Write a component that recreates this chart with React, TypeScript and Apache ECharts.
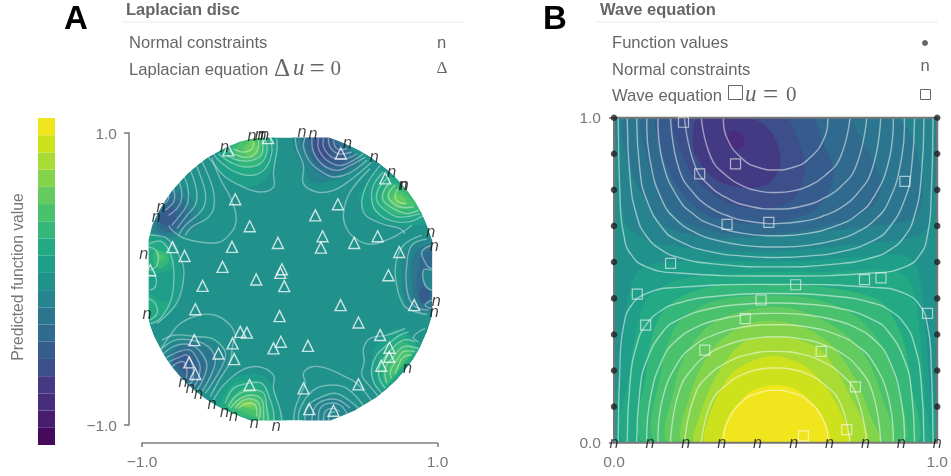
import React, { useEffect, useRef } from "react";
import * as echarts from "echarts";

type Pt = [number, number];

const viridis = ["#450a5c","#481d6f","#472d7b","#443a83","#3c4f8a","#365c8d","#306a8e","#2b768e","#25848e","#21918c","#1f9e89","#23a983","#35b779","#4ac16d","#63cb5f","#84d44b","#a8db34","#cde11d","#f1e51d"];
const colorbarValues = viridis.map(() => 1);
const colorbarLevels = viridis.map((_, i) => String(i));
const baseLevel = 9;

const discEdge: Pt[] = [[-.955,-.27],[-.955,.27],[-.93,.37],[-.89,.455],[-.85,.525],[-.8,.6],[-.75,.66],[-.69,.725],[-.625,.78],[-.56,.83],[-.49,.87],[-.42,.905],[-.34,.94],[-.26,.96],[-.18,.97],[.264,.97],[.33,.945],[.4,.916],[.47,.882],[.54,.84],[.61,.79],[.68,.733],[.74,.67],[.8,.6],[.85,.527],[.89,.455],[.93,.365],[.964,.265],[.964,-.25],[.93,-.36],[.885,-.46],[.835,-.55],[.78,-.625],[.72,-.695],[.655,-.755],[.59,-.81],[.515,-.857],[.44,-.9],[.36,-.935],[.275,-.97],[-.266,-.97],[-.34,-.94],[-.42,-.905],[-.495,-.868],[-.565,-.825],[-.63,-.775],[-.69,-.725],[-.745,-.665],[-.795,-.605],[-.84,-.54],[-.88,-.47],[-.92,-.39],[-.945,-.32]];
const maskOuter: Pt[] = [[-1.03,-1.03],[1.03,-1.03],[1.03,1.03],[-1.03,1.03]];

const discBands: [number, Pt[]][] = [
  [10,[[-.493,.756],[-.392,.664],[-.302,.63],[-.2,.653],[-.132,.733],[-.087,.847],[-.11,.984],[-.369,.984],[-.493,.847]]],
  [11,[[-.437,.801],[-.335,.721],[-.234,.71],[-.155,.801],[-.144,.984],[-.347,.984],[-.448,.858]]],
  [12,[[-.38,.824],[-.302,.767],[-.211,.79],[-.166,.87],[-.189,.984],[-.324,.984],[-.403,.881]]],
  [13,[[-.347,.835],[-.279,.813],[-.2,.858],[-.211,.961],[-.302,.961],[-.369,.881]]],
  [14,[[-.302,.858],[-.256,.835],[-.216,.881],[-.234,.938],[-.274,.938],[-.313,.892]]],
  [8,[[-.82,.619],[-.73,.63],[-.674,.562],[-.617,.448],[-.606,.379],[-.685,.322],[-.775,.288],[-.888,.288],[-.944,.311],[-.91,.459]]],
  [7,[[-.843,.585],[-.752,.585],[-.685,.493],[-.674,.391],[-.775,.322],[-.888,.322],[-.91,.414]]],
  [6,[[-.82,.55],[-.752,.539],[-.707,.459],[-.73,.368],[-.809,.322],[-.877,.345],[-.877,.436]]],
  [5,[[-.854,.482],[-.786,.493],[-.764,.414],[-.82,.357],[-.877,.391]]],
  [8,[[.026,.984],[.037,.87],[.093,.767],[.15,.664],[.251,.664],[.375,.699],[.488,.79],[.296,.984]]],
  [7,[[.082,.984],[.093,.87],[.161,.756],[.251,.699],[.375,.733],[.465,.813],[.285,.984]]],
  [6,[[.116,.984],[.138,.847],[.217,.756],[.319,.733],[.42,.79],[.285,.984]]],
  [5,[[.138,.984],[.172,.847],[.24,.778],[.33,.778],[.375,.824],[.251,.984]]],
  [4,[[.172,.949],[.183,.858],[.24,.813],[.274,.87],[.229,.949]]],
  [10,[[.601,.744],[.499,.619],[.465,.562],[.522,.448],[.657,.379],[.781,.357],[.95,.402],[.758,.664]]],
  [11,[[.646,.699],[.567,.596],[.555,.505],[.646,.425],[.77,.402],[.928,.448],[.781,.642]]],
  [12,[[.668,.653],[.612,.562],[.646,.482],[.747,.436],[.894,.471],[.792,.619]]],
  [13,[[.702,.619],[.657,.562],[.702,.493],[.792,.482],[.849,.505],[.781,.585]]],
  [14,[[.725,.585],[.691,.539],[.747,.505],[.792,.528],[.758,.573]]],
  [8,[[.894,.265],[.781,.186],[.758,.072],[.781,-.156],[.871,-.22],[.995,-.213],[.995,.265]]],
  [7,[[.916,.231],[.837,.163],[.826,-.02],[.849,-.179],[.995,-.202],[.995,.231]]],
  [6,[[.961,.186],[.894,.163],[.871,.072],[.86,-.088],[.905,-.168],[.961,-.122],[.928,.026],[.973,.072]]],
  [5,[[.905,-.042],[.871,-.111],[.905,-.168],[.95,-.111]]],
  [8,[[.995,.072],[.905,.06],[.916,-.054],[.995,-.077]]],
  [10,[[-.977,.311],[-.853,.277],[-.763,.163],[-.729,.026],[-.752,-.134],[-.819,-.248],[-.977,-.316]]],
  [11,[[-.977,.254],[-.819,.22],[-.785,.117],[-.808,.06],[-.977,.049]]],
  [11,[[-.977,-.088],[-.876,-.145],[-.819,-.168],[-.853,-.236],[-.977,-.282]]],
  [12,[[-.91,.197],[-.83,.174],[-.819,.117],[-.876,.072],[-.921,.106]]],
  [13,[[-.898,.174],[-.853,.163],[-.853,.129],[-.887,.129]]],
  [8,[[-.854,-.487],[-.73,-.407],[-.55,-.419],[-.426,-.51],[-.437,-.601],[-.538,-.749],[-.696,-.749],[-.865,-.567]]],
  [7,[[-.809,-.521],[-.707,-.441],[-.583,-.464],[-.493,-.555],[-.538,-.658],[-.617,-.738],[-.73,-.715]]],
  [6,[[-.786,-.544],[-.707,-.476],[-.64,-.498],[-.572,-.59],[-.628,-.692],[-.719,-.681]]],
  [5,[[-.786,-.567],[-.73,-.51],[-.674,-.521],[-.64,-.601],[-.685,-.658],[-.741,-.612]]],
  [10,[[-.516,-.852],[-.426,-.704],[-.324,-.658],[-.189,-.658],[-.11,-.749],[-.076,-.886],[-.031,-.989],[-.414,-1.0]]],
  [11,[[-.471,-.863],[-.38,-.715],[-.256,-.692],[-.155,-.749],[-.121,-.886],[-.099,-.989],[-.369,-.977]]],
  [12,[[-.426,-.863],[-.335,-.761],[-.234,-.749],[-.166,-.829],[-.144,-.977],[-.347,-.932]]],
  [13,[[-.392,-.863],[-.313,-.806],[-.223,-.806],[-.189,-.886],[-.189,-.954],[-.324,-.909]]],
  [14,[[-.358,-.863],[-.302,-.829],[-.234,-.84],[-.223,-.897],[-.29,-.886]]],
  [15,[[-.324,-.859],[-.279,-.845],[-.245,-.863],[-.279,-.875]]],
  [8,[[.093,-.989],[.138,-.863],[.251,-.806],[.364,-.829],[.454,-.909],[.296,-.989]]],
  [10,[[.725,-.339],[.601,-.43],[.555,-.544],[.544,-.658],[.612,-.772],[.815,-.578],[.894,-.453],[.815,-.384]]],
  [11,[[.747,-.373],[.646,-.464],[.589,-.578],[.601,-.704],[.646,-.749],[.837,-.544],[.871,-.464]]],
  [12,[[.758,-.43],[.68,-.498],[.623,-.601],[.657,-.715],[.815,-.533],[.849,-.476]]],
  [13,[[.77,-.476],[.713,-.533],[.668,-.624],[.702,-.658],[.804,-.533],[.826,-.51]]],
];

const discLines: Pt[][] = [
  [[-.527,.831],[-.471,.687],[-.403,.562],[-.365,.448],[-.368,.368],[-.402,.311],[-.47,.254],[-.582,.25],[-.718,.281],[-.797,.334],[-.819,.368]],
  [[-.606,.824],[-.561,.733],[-.516,.596],[-.516,.482],[-.561,.414],[-.662,.357],[-.707,.3]],
  [[-.644,.806],[-.606,.71],[-.572,.596],[-.577,.505],[-.622,.441],[-.707,.368],[-.752,.3]],
  [[-.685,.767],[-.651,.687],[-.628,.585],[-.64,.505],[-.696,.436],[-.764,.345]],
  [[-.725,.721],[-.696,.653],[-.685,.573],[-.696,.505],[-.752,.425],[-.798,.368]],
  [[-.764,.687],[-.734,.619],[-.734,.539],[-.764,.482],[-.82,.436]],
  [[-.798,.642],[-.78,.585],[-.786,.528],[-.843,.471]],
  [[-.831,.596],[-.82,.55],[-.865,.505]],
  [[-.087,.961],[-.087,.881],[-.11,.733],[-.11,.63],[-.2,.596],[-.313,.63],[-.437,.699],[-.516,.79],[-.55,.835]],
  [[-.132,.961],[-.121,.87],[-.166,.756],[-.256,.71],[-.369,.733],[-.482,.813],[-.516,.858]],
  [[-.166,.961],[-.155,.87],[-.2,.79],[-.302,.767],[-.403,.801],[-.482,.858]],
  [[-.189,.961],[-.189,.858],[-.256,.813],[-.347,.813],[-.426,.847]],
  [[-.211,.949],[-.223,.87],[-.279,.835],[-.358,.847],[-.414,.881]],
  [[-.245,.949],[-.256,.892],[-.313,.87],[-.38,.892]],
  [[.037,.965],[.048,.892],[.093,.778],[.093,.653],[.183,.596],[.296,.607],[.409,.676],[.555,.801]],
  [[.104,.965],[.093,.904],[.138,.801],[.217,.733],[.296,.699],[.398,.721],[.522,.813]],
  [[.15,.965],[.161,.87],[.229,.778],[.319,.744],[.409,.778],[.51,.835]],
  [[.195,.965],[.195,.892],[.251,.813],[.341,.778],[.431,.813],[.499,.858]],
  [[.229,.965],[.229,.904],[.285,.835],[.375,.824],[.454,.858]],
  [[.262,.965],[.274,.904],[.33,.858],[.42,.87]],
  [[.296,.949],[.319,.892],[.386,.892]],
  [[.544,.756],[.409,.596],[.364,.459],[.375,.368],[.431,.288],[.544,.238],[.68,.277],[.781,.334],[.826,.368]],
  [[.612,.778],[.51,.619],[.499,.459],[.623,.379],[.747,.345],[.781,.311]],
  [[.634,.733],[.567,.642],[.555,.539],[.589,.459],[.68,.402],[.804,.391],[.905,.436]],
  [[.657,.687],[.601,.619],[.589,.539],[.646,.471],[.736,.425],[.882,.448]],
  [[.68,.664],[.634,.596],[.634,.539],[.702,.482],[.792,.448],[.871,.471]],
  [[.713,.642],[.668,.585],[.68,.539],[.747,.493],[.837,.493]],
  [[.736,.619],[.713,.573],[.736,.528],[.792,.516]],
  [[.894,.3],[.77,.231],[.72,.117],[.72,-.02],[.77,-.179],[.837,-.22],[.928,-.243]],
  [[.928,.272],[.826,.231],[.792,.094],[.792,-.065],[.837,-.179],[.939,-.213]],
  [[.961,.231],[.894,.186],[.928,.094],[.961,.072]],
  [[.961,.06],[.905,.06],[.916,-.042],[.961,-.077]],
  [[.961,-.145],[.916,-.179],[.961,-.202]],
  [[-.943,.3],[-.83,.277],[-.752,.163],[-.718,.072],[-.729,-.065],[-.774,-.179],[-.898,-.305]],
  [[-.948,.243],[-.864,.254],[-.797,.14],[-.785,-.02],[-.808,-.156],[-.876,-.27],[-.943,-.305]],
  [[-.955,.22],[-.898,.186],[-.898,.094],[-.948,.06]],
  [[-.955,.026],[-.91,.015],[-.91,-.054],[-.948,-.077]],
  [[-.955,-.134],[-.91,-.168],[-.898,-.236],[-.948,-.282]],
  [[-.877,-.487],[-.809,-.384],[-.741,-.305],[-.617,-.248],[-.504,-.248],[-.414,-.305],[-.369,-.384],[-.387,-.453],[-.403,-.567],[-.471,-.681],[-.538,-.806]],
  [[-.865,-.419],[-.775,-.384],[-.617,-.396],[-.527,-.407],[-.448,-.476],[-.437,-.544],[-.504,-.681],[-.572,-.783]],
  [[-.865,-.476],[-.775,-.419],[-.662,-.419],[-.55,-.464],[-.504,-.555],[-.538,-.669],[-.595,-.772]],
  [[-.854,-.51],[-.764,-.453],[-.662,-.453],[-.595,-.51],[-.561,-.59],[-.583,-.681],[-.628,-.761]],
  [[-.843,-.544],[-.752,-.498],[-.674,-.487],[-.628,-.544],[-.606,-.612],[-.628,-.704],[-.662,-.749]],
  [[-.82,-.567],[-.741,-.533],[-.696,-.521],[-.662,-.578],[-.651,-.647],[-.662,-.704],[-.696,-.726]],
  [[-.798,-.601],[-.741,-.567],[-.707,-.578],[-.696,-.647],[-.707,-.692],[-.73,-.704]],
  [[-.516,-.829],[-.448,-.726],[-.324,-.624],[-.211,-.601],[-.11,-.658],[-.11,-.749],[-.065,-.897],[-.053,-.977]],
  [[-.437,-.852],[-.38,-.749],[-.279,-.715],[-.189,-.715],[-.144,-.795],[-.11,-.909],[-.11,-.977]],
  [[-.414,-.875],[-.358,-.795],[-.256,-.761],[-.177,-.783],[-.155,-.886],[-.144,-.966]],
  [[-.403,-.886],[-.335,-.818],[-.256,-.795],[-.189,-.829],[-.177,-.92],[-.177,-.977]],
  [[-.369,-.886],[-.313,-.829],[-.234,-.829],[-.2,-.886],[-.211,-.966]],
  [[-.347,-.886],[-.29,-.852],[-.234,-.863],[-.223,-.943]],
  [[.026,-.973],[.037,-.886],[.071,-.795],[.104,-.715],[.093,-.647],[.15,-.601],[.251,-.612],[.375,-.669],[.454,-.715],[.533,-.806],[.567,-.863]],
  [[.059,-.973],[.071,-.886],[.161,-.761],[.285,-.726],[.386,-.749],[.488,-.852],[.533,-.932]],
  [[.104,-.973],[.116,-.875],[.195,-.818],[.307,-.783],[.398,-.829],[.477,-.897]],
  [[.15,-.973],[.172,-.875],[.24,-.829],[.33,-.829],[.409,-.886]],
  [[.195,-.973],[.206,-.886],[.262,-.852],[.341,-.863],[.386,-.92]],
  [[.229,-.973],[.24,-.909],[.285,-.886],[.341,-.909]],
  [[.262,-.973],[.274,-.92],[.307,-.909]],
  [[.781,-.339],[.657,-.384],[.544,-.407],[.499,-.476],[.504,-.567],[.488,-.658],[.555,-.749],[.601,-.806]],
  [[.804,-.362],[.747,-.384],[.657,-.453],[.589,-.521],[.555,-.612],[.567,-.704],[.623,-.783]],
  [[.849,-.43],[.77,-.419],[.691,-.476],[.623,-.567],[.601,-.658],[.646,-.749]],
  [[.871,-.476],[.77,-.464],[.702,-.533],[.646,-.612],[.657,-.715]],
  [[.849,-.498],[.77,-.498],[.725,-.555],[.68,-.635],[.691,-.681]],
  [[.826,-.521],[.77,-.533],[.736,-.59],[.713,-.647]],
  [[.916,-.339],[.837,-.396],[.871,-.43]],
];

const laplacianPoints: Pt[] = [[-.416,.881],[-.369,.546],[-.271,.361],[-.147,.965],[.346,.86],[.646,.689],[.326,.512],[.173,.436],[.222,.293],[.595,.293],[-.793,.218],[-.712,.158],[-.08,.247],[-.391,.22],[-.944,.06],[-.455,.083],[-.59,-.047],[-.227,-.003],[-.639,-.207],[-.053,.067],[-.064,.042],[-.037,-.049],[-.069,-.254],[.211,.215],[.436,.247],[.741,.185],[.668,.026],[.344,-.179],[.842,-.179],[.465,-.298],[-.646,-.419],[-.387,-.441],[-.335,-.362],[-.29,-.367],[-.482,-.51],[-.376,-.549],[-.11,-.475],[-.06,-.43],[-.68,-.571],[-.639,-.651],[-.272,-.726],[.123,-.458],[.612,-.384],[.675,-.471],[.673,-.533],[.619,-.594],[.465,-.722],[.093,-.749],[.132,-.891],[.296,-.902]];

const discNormals: Pt[] = [[-.441,.904],[-.256,.977],[-.206,.988],[-.188,.988],[-.17,.988],[-.871,.493],[-.903,.425],[.083,1.006],[.157,.995],[.391,.931],[.572,.835],[.691,.733],[.766,.646],[.775,.642],[.954,.32],[-.989,.168],[-.966,-.243],[.978,.226],[.991,-.152],[.978,-.229],[-.723,-.704],[-.673,-.745],[-.617,-.79],[-.526,-.858],[-.441,-.909],[-.38,-.936],[-.24,-.984],[-.091,-1.007],[.797,-.612]];

const waveDomain: Pt[] = [[0,0],[1,0],[1,1],[0,1]];

const waveBands: [number, Pt[]][] = [
  [10,[[.01,0],[.021,.226],[.034,.379],[.049,.472],[.08,.533],[.172,.556],[.357,.559],[.562,.559],[.767,.572],[.87,.579],[.921,.564],[.944,.518],[.962,.379],[.977,.174],[.988,0]]],
  [11,[[.039,0],[.049,.226],[.07,.349],[.101,.441],[.172,.492],[.275,.515],[.501,.525],[.665,.525],[.829,.533],[.9,.513],[.931,.451],[.947,.328],[.962,.123],[.967,0]]],
  [12,[[.095,0],[.101,.226],[.131,.369],[.193,.441],[.316,.482],[.562,.487],[.726,.467],[.829,.431],[.89,.328],[.921,.174],[.931,0]]],
  [13,[[.136,0],[.147,.226],[.193,.359],[.295,.431],[.459,.453],[.624,.441],[.747,.39],[.829,.297],[.88,.164],[.89,0]]],
  [14,[[.172,0],[.188,.174],[.224,.277],[.306,.369],[.449,.415],[.562,.41],[.695,.349],[.777,.267],[.829,.144],[.854,0]]],
  [15,[[.218,0],[.234,.144],[.295,.277],[.377,.349],[.459,.374],[.562,.364],[.665,.308],[.747,.195],[.793,.082],[.818,0]]],
  [16,[[.254,0],[.265,.082],[.316,.205],[.398,.308],[.48,.323],[.562,.318],[.644,.282],[.726,.154],[.777,0]]],
  [17,[[.285,0],[.295,.082],[.357,.205],[.439,.256],[.501,.267],[.583,.241],[.654,.174],[.706,.082],[.726,0]]],
  [18,[[.342,0],[.357,.082],[.418,.154],[.49,.177],[.562,.164],[.624,.113],[.659,.051],[.665,0]]],
  [8,[[.01,1],[.01,.901],[.024,.726],[.049,.654],[.162,.608],[.459,.588],[.767,.613],[.952,.644],[.988,.747],[.991,1]]],
  [7,[[.039,1],[.049,.849],[.121,.706],[.183,.654],[.357,.629],[.87,.675],[.942,.706],[.95,.849],[.87,1]]],
  [6,[[.095,1],[.095,.901],[.152,.747],[.224,.675],[.357,.644],[.521,.644],[.716,.685],[.808,.736],[.827,.808],[.767,.931],[.716,1]]],
  [5,[[.136,1],[.147,.901],[.193,.788],[.275,.706],[.398,.675],[.521,.68],[.634,.726],[.68,.829],[.644,.931],[.608,1]]],
  [4,[[.188,1],[.198,.921],[.254,.808],[.357,.736],[.48,.721],[.562,.757],[.591,.849],[.562,.952],[.531,1]]],
  [3,[[.259,1],[.244,.931],[.254,.88],[.316,.808],[.408,.783],[.48,.798],[.516,.859],[.501,.931],[.459,.983],[.408,1]]],
  [2,[[.347,.941],[.367,.962],[.393,.951],[.405,.926],[.383,.9],[.357,.913]]],
];

const waveLines: Pt[][] = [
  [[.339,0],[.35,.064],[.4,.129],[.45,.154],[.5,.161],[.55,.154],[.6,.129],[.65,.064],[.661,0]],
  [[.27,0],[.3,.122],[.35,.18],[.4,.211],[.45,.226],[.5,.23],[.55,.226],[.6,.211],[.65,.18],[.7,.122],[.73,0]],
  [[.218,0],[.25,.146],[.3,.214],[.35,.247],[.4,.268],[.5,.281],[.6,.268],[.65,.247],[.7,.214],[.75,.146],[.782,0]],
  [[.175,0],[.2,.154],[.25,.237],[.3,.278],[.35,.301],[.4,.316],[.5,.326],[.6,.316],[.65,.301],[.7,.278],[.75,.237],[.8,.154],[.825,0]],
  [[.136,0],[.15,.134],[.2,.25],[.25,.3],[.3,.328],[.4,.356],[.5,.363],[.6,.356],[.7,.328],[.75,.3],[.8,.25],[.85,.134],[.864,0]],
  [[.102,0],[.11,.122],[.15,.257],[.2,.321],[.25,.353],[.3,.373],[.4,.393],[.5,.398],[.6,.393],[.7,.373],[.75,.353],[.8,.321],[.85,.257],[.89,.122],[.898,0]],
  [[.07,0],[.08,.16],[.1,.25],[.15,.34],[.2,.379],[.3,.413],[.4,.426],[.5,.43],[.6,.426],[.7,.413],[.8,.379],[.85,.34],[.9,.25],[.92,.16],[.93,0]],
  [[.041,0],[.05,.19],[.07,.3],[.1,.364],[.15,.409],[.2,.43],[.3,.449],[.5,.459],[.7,.449],[.8,.43],[.85,.409],[.9,.364],[.93,.3],[.95,.19],[.959,0]],
  [[.013,0],[.02,.28],[.03,.36],[.05,.417],[.1,.459],[.2,.478],[.5,.487],[.8,.478],[.9,.459],[.95,.417],[.97,.36],[.98,.28],[.987,0]],
  [[.339,1],[.35,.936],[.4,.871],[.45,.846],[.5,.839],[.55,.846],[.6,.871],[.65,.936],[.661,1]],
  [[.27,1],[.3,.878],[.35,.82],[.4,.789],[.45,.774],[.5,.77],[.55,.774],[.6,.789],[.65,.82],[.7,.878],[.73,1]],
  [[.218,1],[.25,.854],[.3,.786],[.35,.753],[.4,.732],[.5,.719],[.6,.732],[.65,.753],[.7,.786],[.75,.854],[.782,1]],
  [[.175,1],[.2,.846],[.25,.763],[.3,.722],[.35,.699],[.4,.684],[.5,.674],[.6,.684],[.65,.699],[.7,.722],[.75,.763],[.8,.846],[.825,1]],
  [[.136,1],[.15,.866],[.2,.75],[.25,.7],[.3,.672],[.4,.644],[.5,.637],[.6,.644],[.7,.672],[.75,.7],[.8,.75],[.85,.866],[.864,1]],
  [[.102,1],[.11,.878],[.15,.743],[.2,.679],[.25,.647],[.3,.627],[.4,.607],[.5,.602],[.6,.607],[.7,.627],[.75,.647],[.8,.679],[.85,.743],[.89,.878],[.898,1]],
  [[.07,1],[.08,.84],[.1,.75],[.15,.66],[.2,.621],[.3,.587],[.4,.574],[.5,.57],[.6,.574],[.7,.587],[.8,.621],[.85,.66],[.9,.75],[.92,.84],[.93,1]],
  [[.041,1],[.05,.81],[.07,.7],[.1,.636],[.15,.591],[.2,.57],[.3,.551],[.5,.541],[.7,.551],[.8,.57],[.85,.591],[.9,.636],[.93,.7],[.95,.81],[.959,1]],
  [[.013,1],[.02,.72],[.03,.64],[.05,.583],[.1,.541],[.2,.522],[.5,.513],[.8,.522],[.9,.541],[.95,.583],[.97,.64],[.98,.72],[.987,1]],
];

const waveEquationPoints: Pt[] = [[.215,.986],[.376,.858],[.265,.827],[.9,.804],[.35,.672],[.479,.678],[.175,.552],[.072,.457],[.098,.362],[.562,.486],[.775,.502],[.826,.507],[.455,.439],[.406,.382],[.97,.398],[.281,.285],[.641,.281],[.747,.172],[.72,.04],[.586,.021]];
const waveFunctionValues: Pt[] = [[0,.111],[0,.222],[0,.333],[0,.444],[0,.556],[0,.667],[0,.778],[0,.889],[0,1],[1,.111],[1,.222],[1,.333],[1,.444],[1,.556],[1,.667],[1,.778],[1,.889],[1,1]];
const waveNormals: Pt[] = [[0,0],[.111,0],[.222,0],[.333,0],[.444,0],[.556,0],[.667,0],[.778,0],[.889,0],[1,0]];

const GRAY = "#666";
const SANS = '"Liberation Sans", Arial, sans-serif';
const SERIF = '"Liberation Serif", serif';
const LEGEND = `16.6px ${SANS}`;
const TITLE = `bold 16.5px ${SANS}`;

function fillSeries(axis: number, polys: [number, Pt[]][], smooth: number, clip: boolean) {
  return {
    type: "custom", coordinateSystem: "cartesian2d", xAxisIndex: axis, yAxisIndex: axis, clip, silent: true,
    data: polys.map((_, i) => i),
    renderItem: (params: any, api: any) => ({
      type: "polygon",
      shape: { points: polys[params.dataIndex][1].map((p) => api.coord(p)), smooth },
      style: { fill: viridis[polys[params.dataIndex][0]], stroke: "none" },
    }),
  };
}
function lineSeries(axis: number, lines: Pt[][], opacity: number, smooth: number, clip: boolean) {
  return {
    type: "custom", coordinateSystem: "cartesian2d", xAxisIndex: axis, yAxisIndex: axis, clip, silent: true,
    data: lines.map((_, i) => i),
    renderItem: (params: any, api: any) => ({
      type: "polyline",
      shape: { points: lines[params.dataIndex].map((p) => api.coord(p)), smooth },
      style: { fill: "none", stroke: `rgba(255,255,255,${opacity})`, lineWidth: 1.4 },
    }),
  };
}
function nSeries(axis: number, pts: Pt[]) {
  return {
    type: "scatter", xAxisIndex: axis, yAxisIndex: axis, data: pts, symbolSize: 1, clip: false, silent: true, z: 5,
    itemStyle: { color: "transparent" },
    label: { show: true, position: "inside", formatter: "n", color: "#111", fontStyle: "italic", fontFamily: '"DejaVu Sans"', fontSize: 15 },
  };
}
function hollow(axis: number, pts: Pt[], symbol: string, size: number, stroke: string, width: number) {
  return {
    type: "scatter", xAxisIndex: axis, yAxisIndex: axis, data: pts, symbol, symbolSize: size, clip: false, silent: true, z: 4,
    itemStyle: { color: "transparent", borderColor: stroke, borderWidth: width },
  };
}
const ticked = (v: number) => (v < 0 ? "\u2212" : "") + Math.abs(v).toFixed(1);
const axisFont = { color: "#777", fontSize: 15.5, fontFamily: SANS };
const axisStroke = { color: "#808080", width: 1.6 };
const math = (text: string, x: number, y: number, font: string) =>
  ({ type: "text", x, y, style: { text, font, fill: GRAY, verticalAlign: "middle" } });

export default function App() {
  const ref = useRef<HTMLDivElement>(null);
  useEffect(() => {
    const chart = echarts.init(ref.current!, undefined, { renderer: "svg" });
    const mask: Pt[] = [...maskOuter, maskOuter[0], ...discEdge, discEdge[0], maskOuter[0]];
    chart.setOption({
      animation: false,
      grid: [
        { left: 38, top: 118, width: 17, height: 327 },
        { left: 142, top: 133, width: 295.5, height: 292 },
        { left: 614, top: 117.7, width: 325, height: 325 },
      ],
      xAxis: [
        { gridIndex: 0, type: "value", min: 0, max: 1, show: false },
        { gridIndex: 1, type: "value", min: -1, max: 1, offset: 18,
          axisLine: { onZero: false, lineStyle: axisStroke },
          axisTick: { show: true, length: 4, lineStyle: axisStroke, customValues: [-1, 1] },
          axisLabel: { ...axisFont, margin: 10, customValues: [-1, 1], formatter: ticked, hideOverlap: false },
          splitLine: { show: false } },
        { gridIndex: 2, type: "value", min: 0, max: 1, interval: 1,
          axisLine: { show: false, onZero: false }, axisTick: { show: false },
          axisLabel: { ...axisFont, margin: 11, formatter: ticked },
          splitLine: { show: false } },
      ],
      yAxis: [
        { gridIndex: 0, type: "category", data: colorbarLevels,
          axisLine: { show: false }, axisTick: { show: false }, axisLabel: { show: false },
          name: "Predicted function value", nameLocation: "middle", nameRotate: 90, nameGap: 13,
          nameTextStyle: { color: "#777", fontSize: 15.7, fontFamily: SANS, padding: [0, 0, 0, 9] } },
        { gridIndex: 1, type: "value", min: -1, max: 1, offset: 13,
          axisLine: { onZero: false, lineStyle: axisStroke },
          axisTick: { show: true, length: 5, lineStyle: axisStroke, customValues: [-1, 1] },
          axisLabel: { ...axisFont, margin: 12, customValues: [-1, 1], formatter: ticked },
          splitLine: { show: false } },
        { gridIndex: 2, type: "value", min: 0, max: 1, interval: 1,
          axisLine: { show: false, onZero: false },
          axisTick: { show: true, length: 5, lineStyle: axisStroke },
          axisLabel: { ...axisFont, margin: 13, formatter: ticked },
          splitLine: { show: false } },
      ],
      series: [
        { type: "bar", xAxisIndex: 0, yAxisIndex: 0, barWidth: "100%", silent: true,
          data: colorbarValues.map((v, i) => ({ value: v, itemStyle: { color: viridis[i] } })) },
        fillSeries(1, [[baseLevel, discEdge]], 0, false),
        fillSeries(1, discBands, 0.3, false),
        lineSeries(1, discLines, 0.38, 0.4, false),
        { type: "custom", coordinateSystem: "cartesian2d", xAxisIndex: 1, yAxisIndex: 1, silent: true, data: [0],
          renderItem: (_: any, api: any) => ({
            type: "polygon", shape: { points: mask.map((p) => api.coord(p)) },
            style: { fill: "#fff", stroke: "none" },
          }) },
        hollow(1, laplacianPoints, "triangle", 11, "rgba(255,255,255,0.95)", 1.4),
        nSeries(1, discNormals),
        fillSeries(2, [[baseLevel, waveDomain]], 0, true),
        fillSeries(2, waveBands, 0.3, true),
        lineSeries(2, waveLines, 0.5, 0.5, true),
        { type: "custom", coordinateSystem: "cartesian2d", xAxisIndex: 2, yAxisIndex: 2, silent: true, data: [0],
          renderItem: (_: any, api: any) => ({
            type: "polygon", shape: { points: waveDomain.map((p) => api.coord(p)) },
            style: { fill: "none", stroke: "#777", lineWidth: 2 },
          }) },
        hollow(2, waveEquationPoints, "rect", 10, "rgba(255,255,255,0.75)", 1.2),
        { type: "scatter", xAxisIndex: 2, yAxisIndex: 2, data: waveFunctionValues, symbolSize: 6.5, clip: false, silent: true, z: 5,
          itemStyle: { color: "#222" } },
        nSeries(2, waveNormals),
      ],
      graphic: [
        { type: "text", x: 64, y: 1, style: { text: "A", font: `bold 33px ${SANS}`, fill: "#000" } },
        { type: "text", x: 543, y: 1, style: { text: "B", font: `bold 33px ${SANS}`, fill: "#000" } },
        { type: "text", x: 126, y: 8.5, style: { text: "Laplacian disc", font: TITLE, fill: GRAY, verticalAlign: "middle" } },
        { type: "text", x: 600, y: 8.5, style: { text: "Wave equation", font: TITLE, fill: GRAY, verticalAlign: "middle" } },
        { type: "line", shape: { x1: 122, y1: 22, x2: 464, y2: 22 }, style: { stroke: "#e4ebf1", lineWidth: 1 } },
        { type: "line", shape: { x1: 597, y1: 22, x2: 938, y2: 22 }, style: { stroke: "#e4ebf1", lineWidth: 1 } },
        { type: "text", x: 129, y: 34, style: { text: "Normal constraints", font: LEGEND, fill: GRAY } },
        { type: "text", x: 129, y: 61, style: { text: "Laplacian equation", font: LEGEND, fill: GRAY } },
        math("\u0394", 274, 67, `25px ${SERIF}`),
        math("u", 293, 67, `italic 23px ${SERIF}`),
        math("=", 309.5, 68, `27px ${SERIF}`),
        math("0", 330.5, 68, `21px ${SERIF}`),
        { type: "text", x: 437, y: 34, style: { text: "n", font: LEGEND, fill: GRAY } },
        { type: "text", x: 436.5, y: 59, style: { text: "\u0394", font: `17px ${SERIF}`, fill: GRAY } },
        { type: "text", x: 612, y: 34, style: { text: "Function values", font: LEGEND, fill: GRAY } },
        { type: "text", x: 612, y: 61, style: { text: "Normal constraints", font: LEGEND, fill: GRAY } },
        { type: "text", x: 612, y: 87, style: { text: "Wave equation", font: LEGEND, fill: GRAY } },
        { type: "rect", shape: { x: 728.5, y: 85.5, width: 14, height: 14 }, style: { fill: "none", stroke: GRAY, lineWidth: 1 } },
        math("u", 745, 93, `italic 23px ${SERIF}`),
        math("=", 763, 94, `27px ${SERIF}`),
        math("0", 786, 94, `21px ${SERIF}`),
        { type: "circle", shape: { cx: 925, cy: 43, r: 3 }, style: { fill: GRAY } },
        { type: "text", x: 920.5, y: 57, style: { text: "n", font: LEGEND, fill: GRAY } },
        { type: "rect", shape: { x: 920.5, y: 89.5, width: 10, height: 10 }, style: { fill: "none", stroke: GRAY, lineWidth: 1 } },
      ],
    });
    return () => chart.dispose();
  }, []);
  return <div ref={ref} style={{ position: "fixed", left: 0, top: 0, width: 951, height: 476 }} />;
}
